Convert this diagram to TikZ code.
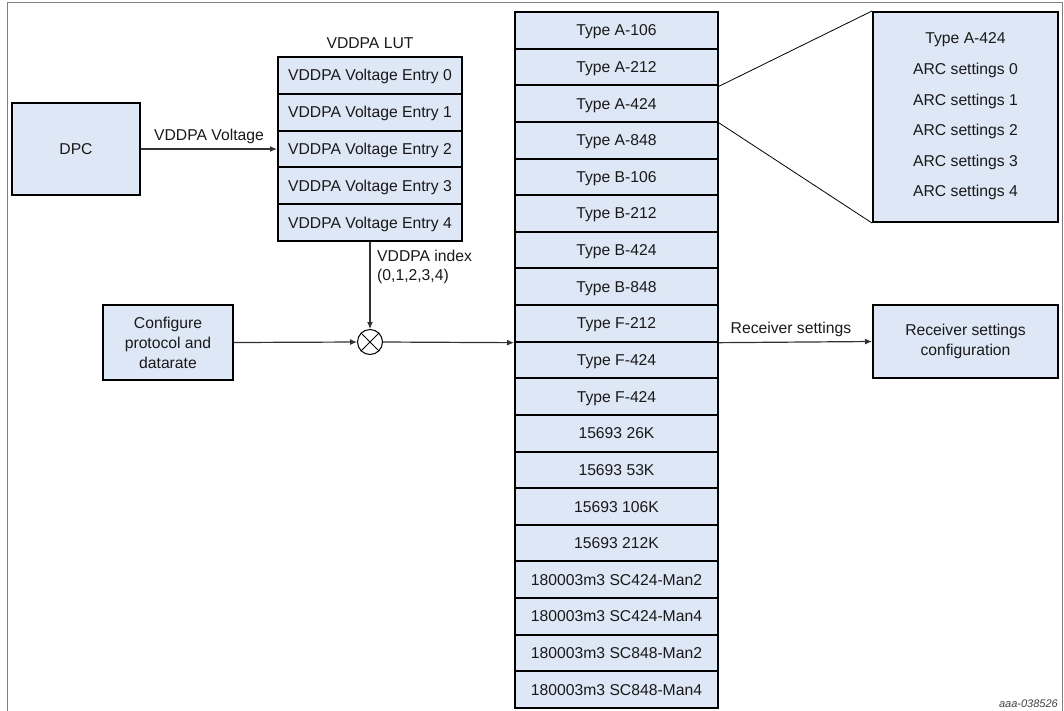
\documentclass[tikz,border=0pt]{standalone}
\usepackage{fontspec}
\setmainfont{Liberation Sans}
\usetikzlibrary{arrows.meta}
\definecolor{boxfill}{RGB}{221,231,245}
\definecolor{linegray}{RGB}{50,50,50}
\definecolor{framegray}{RGB}{128,128,128}
\begin{document}
\begin{tikzpicture}[x=1pt,y=-1pt,
  every node/.style={font=\fontsize{15.7}{20}\selectfont, inner sep=0pt, text=black!90},
  one/.style={text height=11pt, text depth=0pt},
  box/.style={rectangle, draw=black, fill=boxfill, line width=2pt},
  cell/.style={box, one, minimum width=203pt, minimum height=36.63pt},
  lutcell/.style={box, one, minimum width=184pt, minimum height=36.8pt},
  conn/.style={draw=linegray, line width=1.2pt, -{Latex[length=7pt,width=6pt]}},
  zoomline/.style={draw=black, line width=0.8pt},
  lbl/.style={one, fill=none}
]
\useasboundingbox (0,0) rectangle (1064,710);
% frame
\draw[framegray, line width=1pt] (7,712) -- (7,2) -- (1062,2) -- (1062,712);

% middle column
\foreach [count=\i] \t in {Type A-106, Type A-212, Type A-424, Type A-848,
  Type B-106, Type B-212, Type B-424, Type B-848, Type F-212, Type F-424,
  Type F-424, 15693 26K, 15693 53K, 15693 106K, 15693 212K,
  180003m3 SC424-Man2, 180003m3 SC424-Man4, 180003m3 SC848-Man2,
  180003m3 SC848-Man4}
  \node[cell] (c\i) at (616.5, {12+36.63*(\i-0.5)}) {\t};

% LUT
\node[lbl] (luttitle) at (370,43) {VDDPA LUT};
\foreach \i in {0,...,4}
  \node[lutcell] (l\i) at (370, {57+36.8*(\i+0.5)}) {VDDPA Voltage Entry \i};

% DPC
\node[box, one, minimum width=128pt, minimum height=92pt] (dpc) at (76,149) {DPC};

% configure
\node[box, align=center, minimum width=130pt, minimum height=75pt] (cfg) at (168,342.5)
  {Configure\\protocol and\\datarate};

% multiplier
\node[circle, draw=black, line width=1pt, fill=white, minimum size=25pt] (mult) at (370,342) {};
\draw[black, line width=1pt] (mult.45) -- (mult.225) (mult.135) -- (mult.315);

% ARC box
\node[box, minimum width=185pt, minimum height=210pt] (arc) at (965.5,117) {};
\node[lbl] (arct) at (965.5,38) {Type A-424};
\foreach \i/\yy in {0/69,1/99.5,2/130,3/160.5,4/191}
  \node[lbl] (arc\i) at (965.5,\yy) {ARC settings \i};

% receiver box
\node[box, align=center, minimum width=185pt, minimum height=73pt] (recv) at (965.5,341.5)
  {Receiver settings\\configuration};

% connectors
\draw[conn] (dpc.east) -- (l2.west) node[lbl, midway, above=8pt] (vlab) {VDDPA Voltage};
\draw[conn] (l4.south) -- (mult.north);
\node[anchor=north west, align=left, font=\fontsize{15.7}{18.5}\selectfont] (idx) at (377,250)
  {VDDPA index\\(0,1,2,3,4)};
\draw[conn] (cfg.east) -- (mult.west);
\draw[conn] (mult.east) -- (c9.south west);
\draw[conn] (c9.south east) -- (recv.west) node[lbl, pos=0.47, above=8pt] (rlab) {Receiver settings};

% zoom lines
\draw[zoomline] (c2.south east) -- (arc.north west);
\draw[zoomline] (c3.south east) -- (arc.south west);

% figure id
\node[anchor=base east, font=\fontsize{11}{13}\selectfont\itshape, text=black!75] (fid) at (1058,707) {aaa-038526};
\end{tikzpicture}
\end{document}
